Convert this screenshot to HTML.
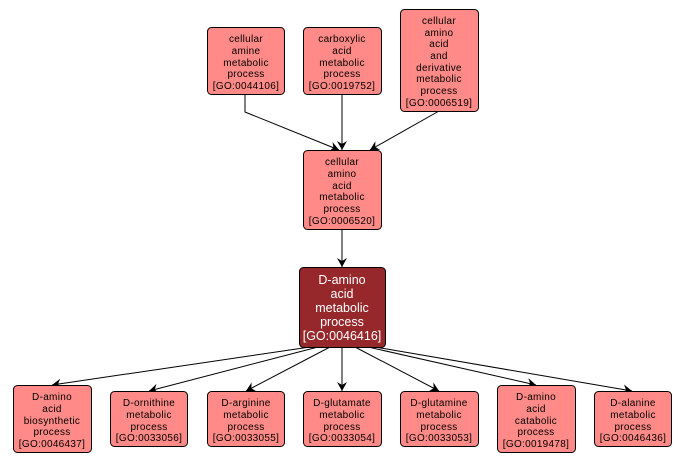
<!DOCTYPE html>
<html><head><meta charset="utf-8"><style>
html,body{margin:0;padding:0;background:#fff;}
svg{display:block;}
text{font-family:"Liberation Sans",sans-serif;font-size:10px;fill:#000;text-anchor:middle;letter-spacing:0.3px;}
.w{fill:#fff;font-size:12.5px;letter-spacing:0;}
rect{fill:#ff8a87;stroke:#000;stroke-width:1;}
.m{fill:#96282b;}
line{stroke:#000;stroke-width:1;}
</style></head><body>
<svg width="687" height="463" viewBox="0 0 687 463" xmlns="http://www.w3.org/2000/svg">
<defs><marker id="a" markerWidth="10" markerHeight="10" refX="9" refY="5" orient="auto" markerUnits="userSpaceOnUse"><path d="M0,0 L9,5 L0,10 L3,5 z" fill="#000"/></marker></defs>
<!-- edges -->
<polyline points="245,94 245,112 339,150" fill="none" stroke="#000" marker-end="url(#a)"/>
<line x1="342" y1="94" x2="342" y2="150" marker-end="url(#a)"/>
<line x1="439" y1="111" x2="370" y2="150" marker-end="url(#a)"/>
<line x1="342" y1="229" x2="342" y2="267" marker-end="url(#a)"/>
<line x1="310" y1="347" x2="52" y2="385" marker-end="url(#a)"/>
<line x1="318" y1="347" x2="149" y2="391" marker-end="url(#a)"/>
<line x1="330" y1="347" x2="246" y2="391" marker-end="url(#a)"/>
<line x1="342" y1="347" x2="342" y2="391" marker-end="url(#a)"/>
<line x1="355" y1="347" x2="439" y2="391" marker-end="url(#a)"/>
<line x1="368" y1="347" x2="536" y2="385" marker-end="url(#a)"/>
<line x1="375" y1="347" x2="632" y2="391" marker-end="url(#a)"/>
<!-- top -->
<rect x="207.5" y="27.5" width="77" height="67" rx="4"/>
<text x="246" y="42">cellular</text><text x="246" y="54">amine</text><text x="246" y="66">metabolic</text><text x="246" y="77">process</text><text x="246" y="89">[GO:0044106]</text>
<rect x="303.5" y="27.5" width="78" height="67" rx="4"/>
<text x="342" y="42">carboxylic</text><text x="342" y="54">acid</text><text x="342" y="66">metabolic</text><text x="342" y="77">process</text><text x="342" y="89">[GO:0019752]</text>
<rect x="400.5" y="9.5" width="78" height="102" rx="4"/>
<text x="439" y="24">cellular</text><text x="439" y="36">amino</text><text x="439" y="47">acid</text><text x="439" y="59">and</text><text x="439" y="71">derivative</text><text x="439" y="82">metabolic</text><text x="439" y="94">process</text><text x="439" y="106">[GO:0006519]</text>
<!-- middle -->
<rect x="303.5" y="150.5" width="78" height="79" rx="4"/>
<text x="342" y="165">cellular</text><text x="342" y="177">amino</text><text x="342" y="189">acid</text><text x="342" y="200">metabolic</text><text x="342" y="212">process</text><text x="342" y="224">[GO:0006520]</text>
<!-- main -->
<rect class="m" x="299.5" y="267.5" width="86" height="80" rx="4"/>
<text class="w" x="342" y="284">D-amino</text><text class="w" x="342" y="298">acid</text><text class="w" x="342" y="312">metabolic</text><text class="w" x="342" y="326">process</text><text class="w" x="342" y="340">[GO:0046416]</text>
<!-- bottom -->
<rect x="13.5" y="385.5" width="78" height="67" rx="4"/>
<text x="52" y="400">D-amino</text><text x="52" y="412">acid</text><text x="52" y="424">biosynthetic</text><text x="52" y="435">process</text><text x="52" y="447">[GO:0046437]</text>
<rect x="110.5" y="391.5" width="77" height="55" rx="4"/>
<text x="149" y="406">D-ornithine</text><text x="149" y="418">metabolic</text><text x="149" y="430">process</text><text x="149" y="441">[GO:0033056]</text>
<rect x="207.5" y="391.5" width="77" height="55" rx="4"/>
<text x="246" y="406">D-arginine</text><text x="246" y="418">metabolic</text><text x="246" y="430">process</text><text x="246" y="441">[GO:0033055]</text>
<rect x="303.5" y="391.5" width="78" height="55" rx="4"/>
<text x="342" y="406">D-glutamate</text><text x="342" y="418">metabolic</text><text x="342" y="430">process</text><text x="342" y="441">[GO:0033054]</text>
<rect x="400.5" y="391.5" width="78" height="55" rx="4"/>
<text x="439" y="406">D-glutamine</text><text x="439" y="418">metabolic</text><text x="439" y="430">process</text><text x="439" y="441">[GO:0033053]</text>
<rect x="497.5" y="385.5" width="78" height="67" rx="4"/>
<text x="536" y="400">D-amino</text><text x="536" y="412">acid</text><text x="536" y="424">catabolic</text><text x="536" y="435">process</text><text x="536" y="447">[GO:0019478]</text>
<rect x="594.5" y="391.5" width="77" height="55" rx="4"/>
<text x="633" y="406">D-alanine</text><text x="633" y="418">metabolic</text><text x="633" y="430">process</text><text x="633" y="441">[GO:0046436]</text>
</svg>
</body></html>
